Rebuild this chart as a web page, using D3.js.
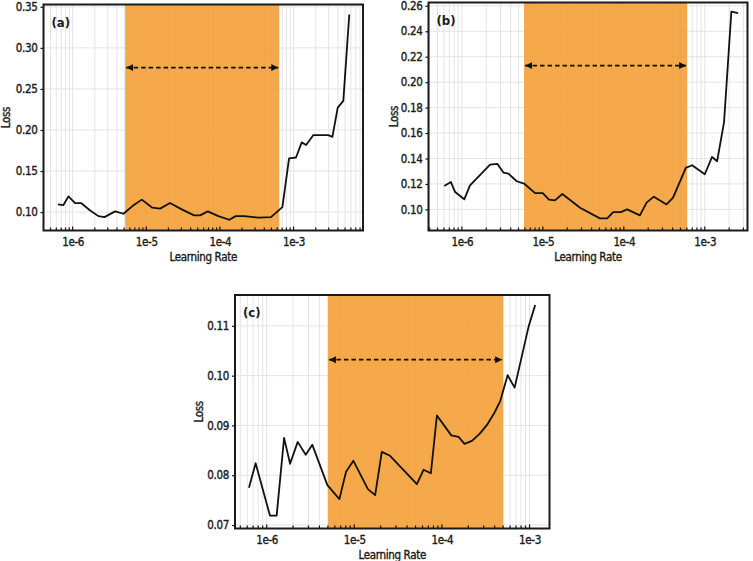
<!DOCTYPE html>
<html>
<head>
<meta charset="utf-8">
<script src="https://cdn.jsdelivr.net/npm/d3@7"></script>
<style>
  html, body { margin: 0; padding: 0; background: #fff; }
  svg { display: block; }
  text { font-family: "DejaVu Sans Condensed", "Liberation Sans Narrow", sans-serif; fill: #1a1a1a; }
</style>
</head>
<body>
<svg id="chart" width="753" height="561"></svg>
<script>
// ---------------- data ----------------
const panelLabels = ["(a)", "(b)", "(c)"];
const xTickValues = [1e-6, 1e-5, 1e-4, 1e-3];
const xTickLabels = ["1e-6", "1e-5", "1e-4", "1e-3"];
const xAxisTitle = "Learning Rate";
const yAxisTitle = "Loss";

const lrA = [6.30e-7, 7.50e-7, 8.77e-7, 1.08e-6, 1.30e-6, 1.73e-6, 2.24e-6, 2.70e-6, 3.78e-6, 4.90e-6,
             6.49e-6, 8.69e-6, 1.21e-5, 1.54e-5, 2.10e-5, 3.03e-5, 4.46e-5, 5.38e-5, 6.84e-5, 9.53e-5,
             1.34e-4, 1.64e-4, 2.13e-4, 3.33e-4, 4.94e-4, 7.05e-4, 8.69e-4, 1.08e-3, 1.29e-3, 1.48e-3,
             1.86e-3, 2.34e-3, 2.96e-3, 3.37e-3, 3.98e-3, 4.74e-3, 5.71e-3];
const lossA = [0.1094, 0.1086, 0.1192, 0.1110, 0.1110, 0.1020, 0.0951, 0.0939, 0.1009, 0.0980,
               0.1073, 0.1152, 0.1054, 0.1042, 0.1110, 0.1033, 0.0960, 0.0960, 0.1009, 0.0951,
               0.0907, 0.0951, 0.0951, 0.0932, 0.0939, 0.1061, 0.1653, 0.1665, 0.1849, 0.1816,
               0.1938, 0.1938, 0.1938, 0.1917, 0.2272, 0.2354, 0.3406];

const lrB = [6.05e-7, 7.32e-7, 8.26e-7, 1.07e-6, 1.26e-6, 2.23e-6, 2.75e-6, 3.26e-6, 3.76e-6, 4.76e-6,
             5.86e-6, 8.02e-6, 9.98e-6, 1.19e-5, 1.41e-5, 1.74e-5, 2.88e-5, 5.07e-5, 6.24e-5, 7.40e-5,
             9.20e-5, 1.10e-4, 1.58e-4, 1.91e-4, 2.35e-4, 3.37e-4, 4.06e-4, 5.83e-4, 6.97e-4, 1.00e-3,
             1.23e-3, 1.42e-3, 1.73e-3, 2.13e-3, 2.58e-3];
const lossB = [0.1184, 0.1215, 0.1136, 0.1079, 0.1189, 0.1352, 0.1357, 0.1289, 0.1281, 0.1221,
               0.1203, 0.1128, 0.1128, 0.1076, 0.1071, 0.1121, 0.1013, 0.0929, 0.0929, 0.0979,
               0.0979, 0.1000, 0.0953, 0.1053, 0.1100, 0.1039, 0.1092, 0.1326, 0.1347, 0.1276,
               0.1412, 0.1378, 0.1686, 0.2555, 0.2542];

const lrC = [6.28e-7, 7.48e-7, 1.09e-6, 1.30e-6, 1.58e-6, 1.85e-6, 2.26e-6, 2.79e-6, 3.32e-6, 4.93e-6,
             6.76e-6, 8.05e-6, 9.77e-6, 1.43e-5, 1.73e-5, 2.06e-5, 2.56e-5, 5.18e-5, 6.17e-5, 7.48e-5,
             8.77e-5, 1.28e-4, 1.55e-4, 1.81e-4, 2.20e-4, 2.69e-4, 3.27e-4, 3.96e-4, 4.63e-4, 5.62e-4,
             6.76e-4, 9.77e-4, 1.16e-3];
const lossC = [0.0775, 0.0824, 0.0719, 0.0719, 0.0875, 0.0823, 0.0867, 0.0841, 0.0861, 0.0780,
               0.0752, 0.0807, 0.0829, 0.0772, 0.0760, 0.0847, 0.0839, 0.0782, 0.0811, 0.0804,
               0.0920, 0.0880, 0.0877, 0.0863, 0.0869, 0.0883, 0.0901, 0.0925, 0.0949, 0.1001,
               0.0976, 0.1099, 0.1142];

const yTicksA = [0.10, 0.15, 0.20, 0.25, 0.30, 0.35];
const yTicksB = [0.10, 0.12, 0.14, 0.16, 0.18, 0.20, 0.22, 0.24, 0.26];
const yTicksC = [0.07, 0.08, 0.09, 0.10, 0.11];

// highlighted learning-rate range [start, end]
const bandA = [5.16e-6, 6.4e-4];
const bandB = [5.86e-6, 6.05e-4];
const bandC = [5.0e-6, 5.0e-4];
// loss level of the double arrow
const arrowLossA = 0.276;
const arrowLossB = 0.213;
const arrowLossC = 0.1032;

// axis domains
const xDomainA = [4.02e-7, 8.77e-3], yDomainA = [0.0776, 0.3528];
const xDomainB = [3.87e-7, 3.37e-3], yDomainB = [0.0834, 0.2626];
const xDomainC = [4.35e-7, 1.69e-3], yDomainC = [0.0693, 0.1162];

// ---------------- layout ----------------
const layout = [
  { left: 43.5, right: 363, top: 4.5, bottom: 230.5, lossX: 10 },
  { left: 428.5, right: 747.5, top: 2.5, bottom: 230.5, lossX: 398 },
  { left: 235, right: 549.5, top: 295, bottom: 528.5, lossX: 203 }
];

const panels = [
  { lr: lrA, loss: lossA, yTicks: yTicksA, band: bandA, arrow: arrowLossA, xd: xDomainA, yd: yDomainA },
  { lr: lrB, loss: lossB, yTicks: yTicksB, band: bandB, arrow: arrowLossB, xd: xDomainB, yd: yDomainB },
  { lr: lrC, loss: lossC, yTicks: yTicksC, band: bandC, arrow: arrowLossC, xd: xDomainC, yd: yDomainC }
];

const FONT = "\"DejaVu Sans Condensed\", \"Liberation Sans Narrow\", sans-serif";
function styleText(sel, size) {
  sel.attr("font-size", size).style("font-family", FONT)
    .attr("fill", "#1a1a1a").attr("stroke", "#1a1a1a").attr("stroke-width", 0.35)
    .attr("letter-spacing", -0.35);
}

const svg = d3.select("#chart");
const defs = svg.append("defs");
defs.append("marker").attr("id", "ahEnd")
  .attr("viewBox", "0 0 10 10").attr("refX", 10).attr("refY", 5)
  .attr("markerUnits", "userSpaceOnUse").attr("markerWidth", 7).attr("markerHeight", 8)
  .attr("orient", "auto")
  .append("path").attr("d", "M0,0 L10,5 L0,10 Z").attr("fill", "#111");
defs.append("marker").attr("id", "ahStart")
  .attr("viewBox", "0 0 10 10").attr("refX", 0).attr("refY", 5)
  .attr("markerUnits", "userSpaceOnUse").attr("markerWidth", 7).attr("markerHeight", 8)
  .attr("orient", "auto")
  .append("path").attr("d", "M10,0 L0,5 L10,10 Z").attr("fill", "#111");

panels.forEach((p, i) => {
  const L = layout[i];
  const x = d3.scaleLog().domain(p.xd).range([L.left, L.right]);
  const y = d3.scaleLinear().domain(p.yd).range([L.bottom, L.top]);
  const g = svg.append("g");

  const allTicks = x.ticks(40).filter(t => t >= p.xd[0] && t <= p.xd[1]);

  // grid
  const grid = g.append("g");
  grid.selectAll("line.vg").data(allTicks).join("line")
    .attr("x1", d => x(d)).attr("x2", d => x(d))
    .attr("y1", L.top).attr("y2", L.bottom)
    .attr("stroke", "#e4e4e4").attr("stroke-width", 1);
  grid.selectAll("line.hg").data(p.yTicks).join("line")
    .attr("x1", L.left).attr("x2", L.right)
    .attr("y1", d => y(d)).attr("y2", d => y(d))
    .attr("stroke", "#e4e4e4").attr("stroke-width", 1);

  // highlighted band
  g.append("rect")
    .attr("x", x(p.band[0])).attr("width", x(p.band[1]) - x(p.band[0]))
    .attr("y", L.top).attr("height", L.bottom - L.top)
    .attr("fill", "#f39a2c").attr("opacity", 0.85);

  // double arrow
  g.append("line")
    .attr("x1", x(p.band[0]) + 1).attr("x2", x(p.band[1]) - 1)
    .attr("y1", y(p.arrow)).attr("y2", y(p.arrow))
    .attr("stroke", "#111").attr("stroke-width", 1.8)
    .attr("stroke-dasharray", "4.5,3")
    .attr("marker-start", "url(#ahStart)").attr("marker-end", "url(#ahEnd)");

  // loss curve
  const line = d3.line().x((d, j) => x(p.lr[j])).y(d => y(d));
  g.append("path").datum(p.loss)
    .attr("d", line).attr("fill", "none")
    .attr("stroke", "#111").attr("stroke-width", 1.8).attr("stroke-linejoin", "round");

  // x axis
  const xAxis = d3.axisBottom(x).tickValues(xTickValues)
    .tickFormat((d) => xTickLabels[xTickValues.indexOf(d)]).tickSize(0).tickPadding(7);
  const xa = g.append("g").attr("transform", `translate(0,${L.bottom})`).call(xAxis);
  xa.select(".domain").remove();
  styleText(xa.selectAll("text"), 11.5);
  g.append("g").selectAll("line").data(allTicks).join("line")
    .attr("x1", d => x(d)).attr("x2", d => x(d))
    .attr("y1", L.bottom).attr("y2", d => L.bottom - (xTickValues.includes(d) ? 4 : 3))
    .attr("stroke", "#111").attr("stroke-width", 1.2);

  // y axis
  const yAxis = d3.axisLeft(y).tickValues(p.yTicks).tickFormat(d3.format(".2f")).tickSize(3).tickPadding(3);
  const ya = g.append("g").attr("transform", `translate(${L.left},0)`).call(yAxis);
  ya.select(".domain").remove();
  ya.selectAll("line").attr("stroke", "#111").attr("stroke-width", 1.2);
  styleText(ya.selectAll("text"), 11.5);

  // frame
  g.append("rect")
    .attr("x", L.left).attr("y", L.top)
    .attr("width", L.right - L.left).attr("height", L.bottom - L.top)
    .attr("fill", "none").attr("stroke", "#1a1a1a").attr("stroke-width", 2);

  // panel label
  g.append("text").attr("x", L.left + 8).attr("y", L.top + 22)
    .attr("font-size", 13).attr("font-weight", "bold").text(panelLabels[i]);

  // axis titles
  const xt = g.append("text")
    .attr("x", (L.left + L.right) / 2).attr("y", L.bottom + 30)
    .attr("text-anchor", "middle").text(xAxisTitle);
  styleText(xt, 11.5);
  const yt = g.append("text")
    .attr("transform", `translate(${L.lossX},${(L.top + L.bottom) / 2}) rotate(-90)`)
    .attr("text-anchor", "middle").text(yAxisTitle);
  styleText(yt, 11.5);
});
</script>
</body>
</html>
